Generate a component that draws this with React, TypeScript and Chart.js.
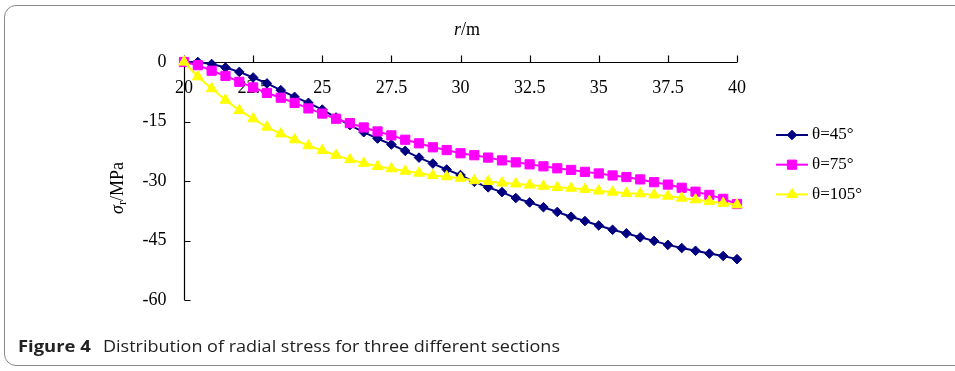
import React, { useEffect, useRef } from "react";
import { Chart, registerables } from "chart.js";

Chart.register(...registerables);

// r (m)
const rValues = [
  20, 20.5, 21, 21.5, 22, 22.5, 23, 23.5, 24, 24.5, 25, 25.5, 26, 26.5, 27, 27.5,
  28, 28.5, 29, 29.5, 30, 30.5, 31, 31.5, 32, 32.5, 33, 33.5, 34, 34.5, 35, 35.5,
  36, 36.5, 37, 37.5, 38, 38.5, 39, 39.5, 40,
];

// sigma_r (MPa)
const sigma45 = [
  0, 0, -0.5, -1.4, -2.5, -3.9, -5.4, -7.1, -8.8, -10.3, -12.0, -14.0, -15.9, -17.7,
  -19.3, -20.8, -22.4, -24.1, -25.6, -27.1, -28.5, -30.2, -31.6, -32.8, -34.3, -35.4,
  -36.6, -37.8, -39.0, -40.1, -41.2, -42.3, -43.2, -44.2, -45.1, -46.1, -46.9, -47.6,
  -48.3, -48.9, -49.7,
];
const sigma75 = [
  0, -0.8, -2.2, -3.5, -5.0, -6.4, -7.8, -9.0, -10.3, -11.7, -13.0, -14.3, -15.4, -16.5,
  -17.5, -18.5, -19.6, -20.5, -21.5, -22.2, -23.0, -23.5, -24.1, -24.8, -25.3, -25.8,
  -26.3, -26.8, -27.2, -27.7, -28.1, -28.6, -29.0, -29.6, -30.3, -30.9, -31.7, -32.7,
  -33.5, -34.5, -35.8,
];
const sigma105 = [
  0, -3.7, -6.7, -9.6, -12.2, -14.3, -16.4, -18.1, -19.6, -21.1, -22.3, -23.5, -24.6,
  -25.5, -26.3, -26.9, -27.5, -28.0, -28.6, -28.9, -29.3, -29.9, -30.1, -30.5, -30.7,
  -31.0, -31.3, -31.6, -31.8, -32.1, -32.5, -32.8, -33.1, -33.2, -33.5, -33.8, -34.3,
  -34.7, -35.1, -35.6, -36.0,
];

const seriesLabels = ["θ=45°", "θ=75°", "θ=105°"];
const xTicks = [20, 22.5, 25, 27.5, 30, 32.5, 35, 37.5, 40];
const yTicks = [0, -15, -30, -45, -60];
const captionBold = "Figure 4";
const captionText = "Distribution of radial stress for three different sections";

const SERIF = '"Liberation Serif", "Times New Roman", serif';

function drawMarker(ctx: CanvasRenderingContext2D, style: string, x: number, y: number, r: number, color: string) {
  ctx.save();
  ctx.fillStyle = color;
  ctx.strokeStyle = color;
  ctx.lineWidth = 1;
  ctx.beginPath();
  if (style === "rectRot") {
    ctx.moveTo(x - r, y);
    ctx.lineTo(x, y - r);
    ctx.lineTo(x + r, y);
    ctx.lineTo(x, y + r);
  } else if (style === "rect") {
    const s = r * Math.SQRT1_2;
    ctx.rect(x - s, y - s, 2 * s, 2 * s);
  } else {
    const a = (2 * Math.PI) / 3;
    ctx.moveTo(x, y - r);
    ctx.lineTo(x + Math.sin(a) * r, y - Math.cos(a) * r);
    ctx.lineTo(x + Math.sin(2 * a) * r, y - Math.cos(2 * a) * r);
  }
  ctx.closePath();
  ctx.fill();
  ctx.stroke();
  ctx.restore();
}

const axesPlugin = {
  id: "paperAxes",
  beforeDatasetsDraw(chart: any) {
    const ctx: CanvasRenderingContext2D = chart.ctx;
    const xs = chart.scales.x;
    const ys = chart.scales.y;
    const yAxis = Math.round(ys.getPixelForValue(0)) + 0.5;
    const xAxis = Math.round(xs.getPixelForValue(20)) + 0.5;
    const yBottom = ys.getPixelForValue(-60);
    const xRight = xs.getPixelForValue(40);
    ctx.save();
    ctx.strokeStyle = "#000";
    ctx.lineWidth = 1.2;
    ctx.beginPath();
    ctx.moveTo(xAxis, yAxis);
    ctx.lineTo(xRight, yAxis);
    ctx.moveTo(xAxis, yAxis);
    ctx.lineTo(xAxis, yBottom);
    // x ticks (outward / upward)
    xTicks.forEach((v) => {
      const px = Math.round(xs.getPixelForValue(v)) + 0.5;
      ctx.moveTo(px, yAxis);
      ctx.lineTo(px, yAxis - 7);
    });
    // y ticks (inward / right)
    yTicks.forEach((v) => {
      const py = Math.round(ys.getPixelForValue(v)) + 0.5;
      ctx.moveTo(xAxis, py);
      ctx.lineTo(xAxis + 6, py);
    });
    ctx.stroke();

    ctx.fillStyle = "#000";
    ctx.font = `18px ${SERIF}`;
    ctx.textAlign = "center";
    ctx.textBaseline = "middle";
    xTicks.forEach((v) => {
      ctx.fillText(String(v), xs.getPixelForValue(v), yAxis + 26);
    });
    ctx.textAlign = "right";
    yTicks.forEach((v) => {
      ctx.fillText(String(v), xAxis - 18, ys.getPixelForValue(v));
    });

    // x axis title: r/m
    ctx.textBaseline = "middle";
    ctx.textAlign = "left";
    ctx.font = `italic 18px ${SERIF}`;
    const wr = ctx.measureText("r").width;
    ctx.font = `18px ${SERIF}`;
    const wm = ctx.measureText("/m").width;
    const cx = 467;
    let sx = cx - (wr + wm) / 2;
    ctx.font = `italic 18px ${SERIF}`;
    ctx.fillText("r", sx, 30);
    ctx.font = `18px ${SERIF}`;
    ctx.fillText("/m", sx + wr, 30);

    // y axis title: σr/MPa (rotated)
    ctx.save();
    ctx.translate(118, 188);
    ctx.rotate(-Math.PI / 2);
    ctx.font = `italic 18px ${SERIF}`;
    const ws = ctx.measureText("σ").width;
    ctx.font = `12px ${SERIF}`;
    const wsub = ctx.measureText("r").width;
    ctx.font = `18px ${SERIF}`;
    const wu = ctx.measureText("/MPa").width;
    const total = ws + wsub + wu;
    let tx = -total / 2;
    ctx.textAlign = "left";
    ctx.font = `italic 18px ${SERIF}`;
    ctx.fillText("σ", tx, 0);
    tx += ws;
    ctx.font = `12px ${SERIF}`;
    ctx.fillText("r", tx, 5);
    tx += wsub;
    ctx.font = `18px ${SERIF}`;
    ctx.fillText("/MPa", tx, 0);
    ctx.restore();

    ctx.restore();
  },
  afterDraw(chart: any) {
    const ctx: CanvasRenderingContext2D = chart.ctx;
    ctx.save();
    // legend
    chart.data.datasets.forEach((ds: any, i: number) => {
      const y = 135 + i * 29.7;
      ctx.strokeStyle = ds.borderColor;
      ctx.lineWidth = 2;
      ctx.beginPath();
      ctx.moveTo(776, y);
      ctx.lineTo(808, y);
      ctx.stroke();
      drawMarker(ctx, ds.pointStyle, 792, y, ds.pointRadius, ds.pointBackgroundColor);
      ctx.fillStyle = "#000";
      ctx.font = `17px ${SERIF}`;
      ctx.textAlign = "left";
      ctx.textBaseline = "middle";
      ctx.fillText(ds.label, 812, y);
    });

    // caption
    ctx.fillStyle = "#222";
    ctx.textBaseline = "alphabetic";
    ctx.textAlign = "left";
    ctx.font = 'bold 16px "Open Sans", "Noto Sans", sans-serif';
    const wb = ctx.measureText(captionBold).width;
    const fb = Math.min(1.15, Math.max(0.8, 74 / wb));
    ctx.save();
    ctx.translate(18, 352);
    ctx.scale(fb, 1);
    ctx.fillText(captionBold, 0, 0);
    ctx.restore();
    ctx.font = '16px "Open Sans", "Noto Sans", sans-serif';
    const wt = ctx.measureText(captionText).width;
    const ft = Math.min(1.15, Math.max(0.8, 457 / wt));
    ctx.save();
    ctx.translate(103, 352);
    ctx.scale(ft, 1);
    ctx.fillText(captionText, 0, 0);
    ctx.restore();
    ctx.restore();
  },
};

export default function App() {
  const ref = useRef<HTMLCanvasElement>(null);
  useEffect(() => {
    const mk = (vals: number[]) => rValues.map((r, i) => ({ x: r, y: vals[i] }));
    const chart = new Chart(ref.current as HTMLCanvasElement, {
      type: "line",
      data: {
        datasets: [
          {
            label: seriesLabels[0],
            data: mk(sigma45),
            borderColor: "#000080",
            backgroundColor: "#000080",
            pointBackgroundColor: "#000080",
            pointBorderColor: "#000080",
            borderWidth: 2,
            pointStyle: "rectRot",
            pointRadius: 4.8,
            pointBorderWidth: 1,
            tension: 0,
            clip: false as any,
            order: 3,
          } as any,
          {
            label: seriesLabels[1],
            data: mk(sigma75),
            borderColor: "#FF00FF",
            backgroundColor: "#FF00FF",
            pointBackgroundColor: "#FF00FF",
            pointBorderColor: "#FF00FF",
            borderWidth: 2,
            pointStyle: "rect",
            pointRadius: 6.5,
            pointBorderWidth: 1,
            tension: 0,
            clip: false as any,
            order: 2,
          } as any,
          {
            label: seriesLabels[2],
            data: mk(sigma105),
            borderColor: "#FFFF00",
            backgroundColor: "#FFFF00",
            pointBackgroundColor: "#FFFF00",
            pointBorderColor: "#FFFF00",
            borderWidth: 2,
            pointStyle: "triangle",
            pointRadius: 6.2,
            pointBorderWidth: 1,
            tension: 0,
            clip: false as any,
            order: 1,
          } as any,
        ],
      },
      options: {
        animation: false,
        responsive: false,
        maintainAspectRatio: false,
        devicePixelRatio: 1,
        events: [],
        layout: { padding: { left: 184, right: 218, top: 62, bottom: 71 } },
        scales: {
          x: { type: "linear", min: 20, max: 40, display: false },
          y: { type: "linear", min: -60, max: 0, display: false },
        },
        plugins: { legend: { display: false }, tooltip: { enabled: false } },
      },
      plugins: [axesPlugin],
    });
    return () => chart.destroy();
  }, []);

  return (
    <div
      style={{
        position: "fixed",
        left: 0,
        top: 0,
        width: 955,
        height: 371,
        background: "#fff",
        overflow: "hidden",
      }}
    >
      <div
        style={{
          position: "absolute",
          left: 4,
          top: 5,
          width: 975,
          height: 361,
          border: "1px solid #8a8a8a",
          borderRadius: 12,
          boxSizing: "border-box",
        }}
      />
      <canvas
        ref={ref}
        width={955}
        height={371}
        style={{ position: "absolute", left: 0, top: 0, width: 955, height: 371 }}
      />
    </div>
  );
}
